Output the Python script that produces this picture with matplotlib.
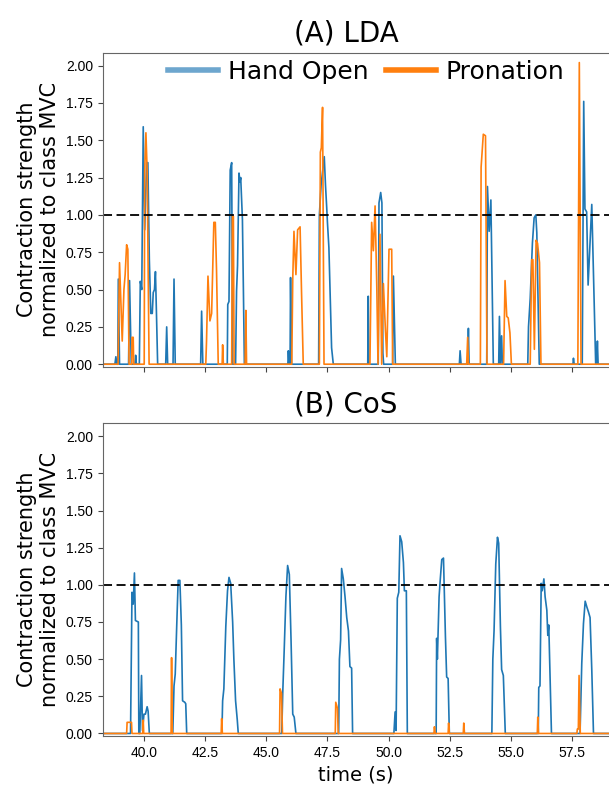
import matplotlib
matplotlib.use("Agg")
import matplotlib.pyplot as plt
from matplotlib.lines import Line2D
import numpy as np

# LDA, Hand Open (time s, strength)
lda_open_t = [38.32, 38.80, 38.84, 38.88, 38.92, 38.94, 38.99, 39.36, 39.40, 39.47, 39.62, 39.65, 39.68,
              39.80, 39.84, 39.90, 39.96, 40.02, 40.10, 40.15, 40.21, 40.27, 40.33, 40.37, 40.42, 40.46,
              40.50, 40.55, 40.88, 40.92, 40.96, 41.18, 41.22, 41.27, 42.31, 42.35, 42.40, 43.40, 43.42,
              43.47, 43.52, 43.58, 43.62, 43.74, 43.78, 43.82, 43.88, 43.92, 43.95, 44.02, 44.06, 44.10,
              45.88, 45.90, 45.93, 45.97, 45.99, 46.03, 47.14, 47.17, 47.24, 47.37, 47.42, 47.47, 47.50,
              47.56, 47.67, 47.74, 49.15, 49.17, 49.20, 49.58, 49.61, 49.68, 49.73, 49.77, 49.80, 50.17,
              50.20, 50.28, 52.90, 52.93, 52.97, 53.24, 53.27, 53.30, 54.02, 54.05, 54.12, 54.19, 54.29,
              54.51, 54.54, 54.58, 54.63, 54.66, 55.70, 55.73, 55.80, 55.89, 55.96, 56.03, 56.07, 56.17,
              57.55, 57.57, 57.60, 57.93, 57.99, 58.04, 58.11, 58.17, 58.32, 58.48, 58.52, 58.55, 58.58, 59.10]
lda_open_v = [0, 0, 0.05, 0, 0, 0.57, 0, 0, 0.56, 0, 0, 0.06, 0,
              0, 0.555, 0.50, 1.59, 0.90, 1.35, 1.35, 0.70, 0.34, 0.34, 0.48, 0.50, 0.62,
              0.35, 0, 0, 0.25, 0, 0, 0.57, 0, 0, 0.355, 0, 0, 0.40,
              0.42, 1.30, 1.35, 0, 0, 0.49, 0.66, 1.28, 1.22, 1.25, 0.97, 0.50, 0,
              0, 0.09, 0, 0, 0.58, 0, 0, 1.00, 1.20, 1.39, 1.20, 1.05, 0.95,
              0.78, 0.11, 0, 0, 0.455, 0, 0, 1.08, 1.15, 1.08, 0.075, 0, 0,
              0.59, 0, 0, 0.09, 0, 0, 0.24, 0, 0, 1.19, 0.89, 1.10, 0,
              0, 0.32, 0, 0.19, 0, 0, 0.25, 0.44, 0.81, 0.98, 1.00, 0.88, 0,
              0, 0.04, 0, 0, 1.76, 1.04, 1.02, 0.53, 1.07, 0, 0, 0.155, 0, 0]

# LDA, Pronation
lda_pron_t = [38.32, 38.93, 38.99, 39.10, 39.17, 39.22, 39.28, 39.33, 39.38, 39.49, 39.50, 39.55, 39.57,
              40.00, 40.02, 40.07, 40.12, 40.20, 42.52, 42.55, 42.61, 42.69, 42.76, 42.85, 42.91, 42.96,
              43.03, 43.19, 43.21, 43.24, 43.58, 43.61, 43.65, 43.68, 44.13, 44.16, 44.19, 46.04, 46.08,
              46.13, 46.21, 46.28, 46.38, 46.44, 46.51, 47.17, 47.21, 47.25, 47.30, 47.36, 49.24, 49.31,
              49.38, 49.45, 49.52, 49.57, 49.65, 49.72, 49.79, 49.87, 49.93, 50.02, 50.13, 50.17, 53.20,
              53.24, 53.27, 53.76, 53.79, 53.88, 53.97, 54.03, 54.71, 54.77, 54.84, 54.90, 54.97, 55.03,
              55.80, 55.86, 55.91, 55.97, 56.04, 56.10, 56.18, 56.24, 57.75, 57.81, 57.88, 59.10]
lda_pron_v = [0, 0, 0.68, 0.155, 0.50, 0.60, 0.80, 0.77, 0, 0, 0.18, 0.18, 0,
              0, 1.29, 1.55, 1.30, 0, 0, 0.15, 0.59, 0.29, 0.34, 0.95, 0.95, 0.63,
              0, 0, 0.13, 0, 0, 0.99, 0.99, 0, 0, 0.36, 0, 0, 0.57,
              0.89, 0.60, 0.90, 0.92, 0.48, 0, 0, 1.42, 1.45, 1.72, 0, 0, 0.95,
              0.76, 1.06, 0.52, 0, 0.87, 0, 0.54, 0.24, 0.05, 0.77, 0.77, 0, 0,
              0.18, 0, 0, 1.32, 1.54, 1.53, 0, 0, 0.56, 0.32, 0.31, 0.21, 0,
              0, 0.70, 0.70, 0.10, 0.83, 0.81, 0.68, 0, 0, 2.02, 0, 0]

# CoS, Hand Open
cos_open_t = [38.32, 39.44, 39.50, 39.55, 39.60, 39.64, 39.76, 39.78, 39.82, 39.89, 39.93, 39.99, 40.05,
              40.12, 40.16, 40.21, 41.17, 41.22, 41.27, 41.33, 41.39, 41.46, 41.52, 41.57, 41.66, 41.70,
              41.74, 43.18, 43.21, 43.26, 43.34, 43.41, 43.47, 43.54, 43.62, 43.67, 43.74, 43.81, 43.85,
              45.63, 45.67, 45.73, 45.80, 45.87, 45.94, 46.01, 46.08, 46.14, 46.21, 47.96, 47.99, 48.04,
              48.08, 48.15, 48.22, 48.29, 48.36, 48.42, 48.49, 48.53, 50.22, 50.27, 50.31, 50.36, 50.42,
              50.47, 50.54, 50.61, 50.65, 50.73, 50.77, 51.95, 51.97, 52.00, 52.07, 52.12, 52.18, 52.25,
              52.33, 52.38, 52.44, 52.49, 54.23, 54.27, 54.32, 54.39, 54.46, 54.51, 54.58, 54.63, 54.70,
              54.78, 56.13, 56.15, 56.20, 56.25, 56.29, 56.36, 56.41, 56.48, 56.52, 56.56, 56.61, 56.67,
              57.84, 57.91, 57.98, 58.05, 58.12, 58.18, 58.25, 58.32, 58.39, 59.10]
cos_open_v = [0, 0, 0.95, 0.87, 1.08, 0.76, 0.75, 0, 0, 0.39, 0.02, 0.13, 0.13,
              0.18, 0.15, 0, 0, 0.32, 0.40, 0.72, 1.03, 1.03, 0.73, 0.22, 0.21, 0.20,
              0, 0, 0.22, 0.30, 0.72, 0.96, 1.05, 1.01, 0.75, 0.50, 0.22, 0.09, 0,
              0, 0.27, 0.56, 0.92, 1.13, 1.07, 0.63, 0.13, 0.11, 0, 0, 0.50, 0.63,
              1.11, 1.04, 0.92, 0.78, 0.69, 0.45, 0.44, 0, 0, 0.145, 0.02, 0.91, 0.95,
              1.33, 1.29, 1.15, 0.96, 0.96, 0, 0, 0.64, 0.50, 0.92, 1.04, 1.17, 1.18,
              0.65, 0.38, 0.37, 0, 0, 0.50, 0.69, 1.14, 1.32, 1.28, 0.72, 0.43, 0.39,
              0, 0, 0.31, 0.32, 1.01, 0.96, 1.04, 0.92, 0.83, 0.66, 0.73, 0.40, 0,
              0, 0.47, 0.74, 0.89, 0.85, 0.82, 0.78, 0.43, 0, 0]

# CoS, Pronation
cos_pron_t = [38.32, 39.28, 39.30, 39.48, 39.50, 39.94, 39.96, 39.98, 41.10, 41.12, 41.15, 43.15, 43.17,
              43.20, 45.54, 45.56, 45.62, 45.66, 47.82, 47.84, 47.91, 47.94, 51.86, 51.88, 51.91, 52.44,
              52.46, 52.49, 53.06, 53.08, 53.11, 56.09, 56.11, 56.14, 57.71, 57.73, 57.77, 57.80, 57.85, 59.10]
cos_pron_v = [0, 0, 0.075, 0.075, 0, 0, 0.09, 0, 0, 0.51, 0, 0, 0.10,
              0, 0, 0.30, 0.27, 0, 0, 0.21, 0.17, 0, 0, 0.045, 0, 0,
              0.07, 0, 0, 0.07, 0, 0, 0.11, 0, 0, 0.03, 0.03, 0.39, 0, 0]

panels = [("(A) LDA", lda_open_t, lda_open_v, lda_pron_t, lda_pron_v),
          ("(B) CoS", cos_open_t, cos_open_v, cos_pron_t, cos_pron_v)]
xticks = [40.0, 42.5, 45.0, 47.5, 50.0, 52.5, 55.0, 57.5]
yticks = [0.0, 0.25, 0.5, 0.75, 1.0, 1.25, 1.5, 1.75, 2.0]

fig = plt.figure(figsize=(6.09, 7.87), dpi=100)
ax1 = fig.add_axes([0.1686, 0.534, 0.8324, 0.399])
ax2 = fig.add_axes([0.1686, 0.0648, 0.8324, 0.3972], sharex=ax1)

tickfont = {"family": "Liberation Sans", "size": 10}
for ax, (title, to, vo, tp, vp) in zip([ax1, ax2], panels):
    ax.plot(to, vo, color="#1f77b4", lw=1.2)
    ax.plot(tp, vp, color="#ff7f0e", lw=1.2)
    ax.axhline(1.0, color="black", lw=1.3, ls="--", dashes=(5, 2.5))
    ax.set_title(title, fontsize=20, pad=8, x=0.48)
    ax.set_ylabel("Contraction strength\nnormalized to class MVC", fontsize=15)
    ax.set_xlim(38.3, 59.05)
    ax.set_ylim(-0.017, 2.086)
    ax.set_yticks(yticks)
    ax.set_yticklabels([f"{y:.2f}" for y in yticks], fontdict=tickfont)
    ax.set_xticks(xticks)
    for s in ax.spines.values():
        s.set_color("#666666")
    ax.tick_params(length=3.5, width=0.8, color="#444444")

ax1.tick_params(labelbottom=False)
ax2.set_xticklabels([f"{x:.1f}" for x in xticks], fontdict=tickfont)
ax2.set_xlabel("time (s)", fontsize=14)

handles = [Line2D([], [], color="#1f77b4", lw=4, alpha=0.65),
           Line2D([], [], color="#ff7f0e", lw=4)]
ax1.legend(handles, ["Hand Open", "Pronation"], loc="upper center", ncol=2, frameon=False,
           fontsize=18, bbox_to_anchor=(0.52, 1.01), borderaxespad=0, handletextpad=0.4,
           columnspacing=0.7, handlelength=2.0)

fig.savefig("out.png", dpi=100)
